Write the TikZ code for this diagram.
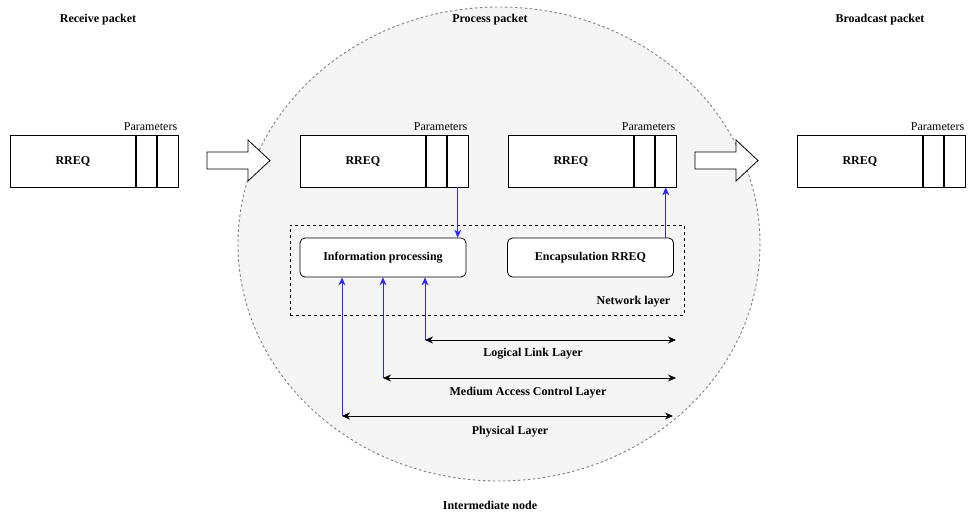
\documentclass[tikz,border=0pt]{standalone}
\usepackage{fontspec}
\setmainfont{Liberation Serif}
\usetikzlibrary{arrows.meta}
\definecolor{arrblue}{RGB}{40,40,255}
\tikzset{
  pbox/.style={draw, line width=0.8pt, fill=white, minimum height=52pt, inner sep=0pt},
  pcell/.style={pbox, minimum width=20.5pt, anchor=west},
  title/.style={font=\fontsize{12}{14}\selectfont\bfseries},
  lbl/.style={font=\fontsize{12}{14}\selectfont\bfseries},
  par/.style={font=\fontsize{12}{14}\selectfont, anchor=south east, inner sep=0pt},
  rbox/.style={draw, line width=0.8pt, rounded corners=5pt, fill=white, minimum width=166pt, minimum height=39pt, font=\fontsize{12}{14}\selectfont\bfseries},
  bluearr/.style={draw=arrblue, line width=0.9pt, -{Stealth[length=8pt,width=7pt]}},
  layarr/.style={draw=black, line width=0.9pt, {Stealth[length=8pt,width=7pt]}-{Stealth[length=8pt,width=7pt]}},
  hollow/.style={draw, line width=0.8pt, fill=white}
}
\begin{document}
\begin{tikzpicture}[x=1pt,y=-1pt]
\useasboundingbox (0,0) rectangle (975,512);
% process ellipse
\draw[fill=black!4, draw=black!50, line width=0.9pt, dash pattern=on 2.5pt off 2.5pt] (499,244) ellipse [x radius=261, y radius=237];

% titles
\node[title] (t1) at (98,20) {Receive packet};
\node[title] (t2) at (490,20) {Process packet};
\node[title] (t3) at (880,20) {Broadcast packet};
\node[title] (t4) at (490,505) {Intermediate node};

% packets
\foreach \n/\x in {p1/10, p2/300, p3/508, p4/797}{
  \node[pbox, minimum width=125pt, anchor=west, font=\fontsize{12}{14}\selectfont\bfseries] (\n) at (\x,161) {RREQ};
  \node[pcell] (\n a) at (\n.east) {};
  \node[pcell] (\n b) at (\n a.east) {};
  \node[par] (\n par) at ([xshift=-1pt,yshift=4pt]\n b.north east) {Parameters};
}

% hollow arrows
\draw[hollow] (207,152) -- (248,152) -- (248,140) -- (270,160.5) -- (248,181) -- (248,169) -- (207,169) -- cycle;
\draw[hollow] (695,152) -- (736,152) -- (736,140) -- (758,160.5) -- (736,181) -- (736,169) -- (695,169) -- cycle;

% network layer
\node[draw, line width=0.9pt, dash pattern=on 3pt off 3pt, minimum width=394pt, minimum height=90pt] (net) at (487,270) {};
\node[lbl, anchor=south east, inner sep=0pt] (netl) at ([xshift=-14pt,yshift=8pt]net.south east) {Network layer};

\node[rbox] (info) at (383,257.5) {Information processing};
\node[rbox] (enc) at (590.5,257.5) {Encapsulation RREQ};

% blue vertical arrows to/from packets
\draw[bluearr] (p2b.south) -- (p2b.south |- info.north);
\draw[bluearr] (p3b.south |- enc.north) -- (p3b.south);

% layers
\coordinate (ll1) at (425,340);  \coordinate (ll2) at (676,340);
\coordinate (mac1) at (383,378); \coordinate (mac2) at (676,378);
\coordinate (phy1) at (342,416); \coordinate (phy2) at (673,416);
\draw[bluearr] (ll1) -- (ll1 |- info.south);
\draw[bluearr] (mac1) -- (mac1 |- info.south);
\draw[bluearr] (phy1) -- (phy1 |- info.south);
\draw[layarr] (ll1) -- (ll2);
\draw[layarr] (mac1) -- (mac2);
\draw[layarr] (phy1) -- (phy2);
\node[lbl] (lll) at (533,354) {Logical Link Layer};
\node[lbl] (macl) at (528,393) {Medium Access Control Layer};
\node[lbl] (phyl) at (510,432) {Physical Layer};
\end{tikzpicture}
\end{document}
